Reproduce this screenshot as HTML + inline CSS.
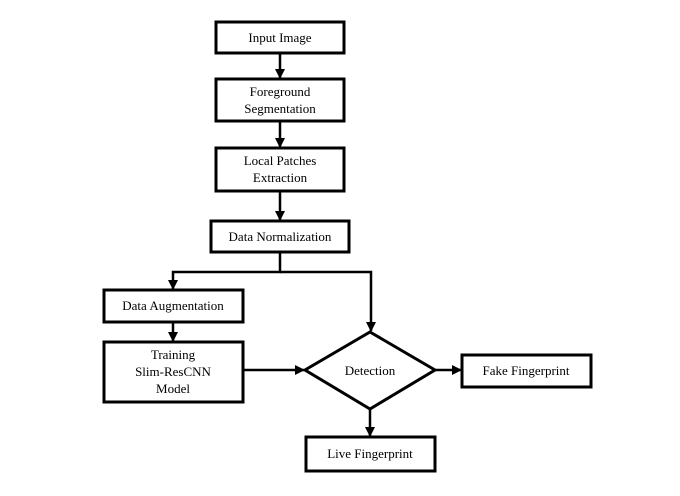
<!DOCTYPE html>
<html><head><meta charset="utf-8"><style>
html,body{margin:0;padding:0;background:#fff;}
svg{display:block;}
text{font-family:"Liberation Serif",serif;font-size:13px;fill:#000;text-anchor:middle;}
</style></head><body>
<svg width="680" height="496" viewBox="0 0 680 496" xmlns="http://www.w3.org/2000/svg">
<defs><marker id="a" markerWidth="10" markerHeight="10" refX="9" refY="5" orient="auto" markerUnits="userSpaceOnUse"><path d="M0,0 L10,5 L0,10 z" fill="#000"/></marker></defs>
<g fill="none" stroke="#000" stroke-width="3">
<rect x="216" y="22" width="128" height="31"/>
<rect x="216" y="79" width="128" height="42"/>
<rect x="216" y="148" width="128" height="43"/>
<rect x="211" y="221" width="138" height="31"/>
<rect x="104" y="290" width="139" height="32"/>
<rect x="104" y="342" width="139" height="60"/>
<polygon points="370,332 435,370 370,409 305,370"/>
<rect x="462" y="355" width="129" height="32"/>
<rect x="306" y="437" width="129" height="34"/>
</g>
<g fill="none" stroke="#000" stroke-width="2.5">
<line x1="280" y1="53" x2="280" y2="78" marker-end="url(#a)"/>
<line x1="280" y1="121" x2="280" y2="147" marker-end="url(#a)"/>
<line x1="280" y1="191" x2="280" y2="220" marker-end="url(#a)"/>
<polyline points="280,252 280,272 173,272 173,289" marker-end="url(#a)"/>
<polyline points="280,272 371,272 371,331" marker-end="url(#a)"/>
<line x1="173" y1="322" x2="173" y2="341" marker-end="url(#a)"/>
<line x1="243" y1="370" x2="304" y2="370" marker-end="url(#a)"/>
<line x1="435" y1="370" x2="461" y2="370" marker-end="url(#a)"/>
<line x1="370" y1="409" x2="370" y2="436" marker-end="url(#a)"/>
</g>
<text x="280" y="42">Input Image</text>
<text x="280" y="96">Foreground</text>
<text x="280" y="113">Segmentation</text>
<text x="280" y="165">Local Patches</text>
<text x="280" y="182">Extraction</text>
<text x="280" y="241">Data Normalization</text>
<text x="173" y="310">Data Augmentation</text>
<text x="173" y="359">Training</text>
<text x="173" y="376">Slim-ResCNN</text>
<text x="173" y="393">Model</text>
<text x="370" y="375">Detection</text>
<text x="526" y="375">Fake Fingerprint</text>
<text x="370" y="458">Live Fingerprint</text>
</svg>
</body></html>
